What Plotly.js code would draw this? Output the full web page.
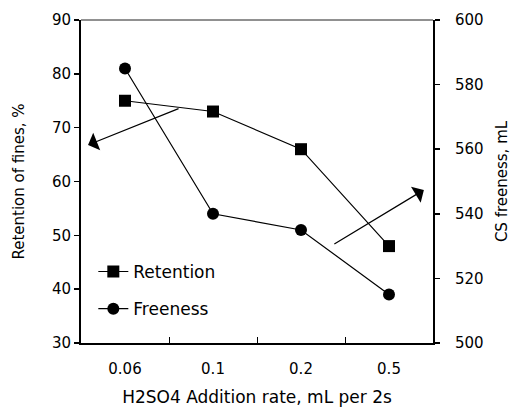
<!DOCTYPE html>
<html><head><meta charset="utf-8">
<script src="https://cdn.plot.ly/plotly-3.0.1.min.js"></script>
<style>body{margin:0;background:#fff}#c{width:518px;height:409px}</style>
</head><body><div id="c"></div>
<script>
const categories = ["0.06", "0.1", "0.2", "0.5"];
const retention = [75, 73, 66, 48];
const freeness = [585, 540, 535, 515];

const F = "DejaVu Sans, sans-serif";
const traces = [
  {x: categories, y: retention, name: "Retention", type: "scatter", mode: "lines+markers",
   line: {color: "#000", width: 1.2}, marker: {symbol: "square", size: 12, color: "#000"}, legend: "legend"},
  {x: categories, y: freeness, name: "Freeness", type: "scatter", mode: "lines+markers", yaxis: "y2",
   line: {color: "#000", width: 1.2}, marker: {symbol: "circle", size: 12, color: "#000"}, legend: "legend2"}
];
const layout = {
  width: 518, height: 409,
  margin: {l: 81, r: 85, t: 20, b: 66},
  paper_bgcolor: "#fff", plot_bgcolor: "#fff",
  font: {family: F, color: "#000", size: 15},
  showlegend: true,
  legend: {x: 0.035, y: 0.22, xanchor: "left", yanchor: "middle", bgcolor: "rgba(0,0,0,0)", font: {size: 17}, itemwidth: 30},
  legend2: {x: 0.035, y: 0.105, xanchor: "left", yanchor: "middle", bgcolor: "rgba(0,0,0,0)", font: {size: 17}, itemwidth: 30},
  xaxis: {type: "category", range: [-0.5, 3.5], tickson: "boundaries", ticks: "inside", ticklen: 6, tickcolor: "#000",
    showline: true, linecolor: "#000", linewidth: 1.5, showgrid: false, zeroline: false, automargin: false,
    ticklabelstandoff: 11,
    tickfont: {size: 15}, title: {text: "H2SO4 Addition rate, mL per 2s", font: {size: 17}, standoff: 14}},
  yaxis: {range: [30, 90], dtick: 10, ticks: "outside", ticklen: 5, tickcolor: "#000", tickwidth: 1.5, showline: true,
    linecolor: "#000", linewidth: 2, showgrid: false, zeroline: false, tickfont: {size: 15}, automargin: false,
    title: {text: "Retention of fines, %", font: {size: 15}, standoff: 24}},
  yaxis2: {range: [500, 600], dtick: 20, overlaying: "y", side: "right", ticks: "outside", ticklen: 5, tickwidth: 1.5,
    tickcolor: "#000", showline: true, linecolor: "#000", linewidth: 2, showgrid: false, zeroline: false, automargin: false,
    ticklabelstandoff: 12,
    tickfont: {size: 15}, title: {text: "CS freeness, mL", font: {size: 15}, standoff: 14}},
  shapes: [{type: "line", xref: "paper", yref: "paper", x0: 0, x1: 1, y0: 1, y1: 1, line: {color: "#222", width: 1}}],
  annotations: [
    {xref: "paper", yref: "paper", x: 0.02, y: 0.613, ax: 92, ay: -37, text: "", showarrow: true,
     arrowhead: 1, arrowsize: 2.6, arrowwidth: 1.2, arrowcolor: "#000"},
    {xref: "paper", yref: "paper", x: 0.974, y: 0.474, ax: -91, ay: 55, text: "", showarrow: true,
     arrowhead: 1, arrowsize: 2.6, arrowwidth: 1.2, arrowcolor: "#000"}
  ]
};
Plotly.newPlot("c", traces, layout, {displayModeBar: false, staticPlot: true});
</script></body></html>
